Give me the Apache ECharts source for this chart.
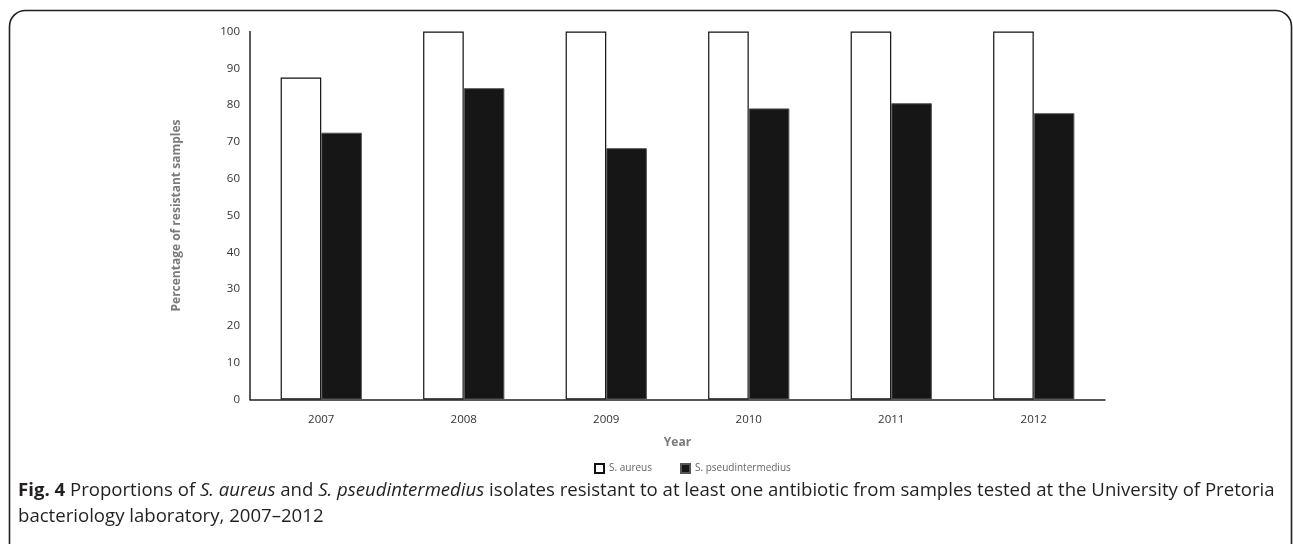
<!DOCTYPE html>
<html>
<head>
<meta charset="utf-8">
<script src="https://cdn.jsdelivr.net/npm/echarts@6/dist/echarts.min.js"></script>
<style>html,body{margin:0;padding:0;background:#fff;}#c{width:1293px;height:544px;}</style>
</head>
<body>
<div id="c"></div>
<script>
const years = ['2007','2008','2009','2010','2011','2012'];
const aureus = [87.5, 100, 100, 100, 100, 100];
const pseudintermedius = [72.5, 84.6, 68.3, 79.1, 80.5, 77.8];
const yTicks = {min: 0, max: 100, interval: 10};

const chart = echarts.init(document.getElementById('c'), null, {renderer: 'canvas'});
const font = '"Open Sans", sans-serif';
const capFont = '"Open Sans", sans-serif';
const capSize = 18.6;
chart.setOption({
  animation: false,
  backgroundColor: '#fff',
  grid: {left: 250, right: 188, top: 31.5, bottom: 144.5, containLabel: false},
  xAxis: {
    type: 'category', data: years,
    name: 'Year', nameLocation: 'middle', nameGap: 37,
    nameTextStyle: {color: '#7a7a7a', fontWeight: 'bold', fontSize: 12, fontFamily: font},
    axisLine: {lineStyle: {color: '#222', width: 1.5}},
    axisTick: {show: false},
    axisLabel: {color: '#333', fontSize: 11.5, fontFamily: font, margin: 14}
  },
  yAxis: {
    type: 'value', min: yTicks.min, max: yTicks.max, interval: yTicks.interval,
    name: 'Percentage of resistant samples', nameLocation: 'middle', nameGap: 67,
    nameTextStyle: {color: '#7a7a7a', fontWeight: 'bold', fontSize: 12, fontFamily: font},
    axisLine: {show: true, lineStyle: {color: '#222', width: 1.5}},
    axisTick: {show: false},
    splitLine: {show: false},
    axisLabel: {color: '#333', fontSize: 11.5, fontFamily: font, margin: 10}
  },
  legend: {
    left: 589, top: 458, itemWidth: 9, itemHeight: 9, itemGap: 28, icon: 'rect',
    textStyle: {color: '#666', fontSize: 10, fontFamily: font},
    data: ['S. aureus', 'S. pseudintermedius']
  },
  series: [
    {name: 'S. aureus', type: 'bar', data: aureus, barGap: '0%', barCategoryGap: '43%',
     itemStyle: {color: '#fff', borderColor: '#111', borderWidth: 1.2}},
    {name: 'S. pseudintermedius', type: 'bar', data: pseudintermedius, barGap: '0%', barCategoryGap: '43%',
     itemStyle: {color: '#161616', borderColor: '#555', borderWidth: 1}}
  ],
  graphic: [
    {type: 'rect', shape: {x: 9.5, y: 10.5, width: 1282, height: 620, r: 16},
     style: {fill: null, stroke: '#231f20', lineWidth: 1.6}, silent: true},
    {type: 'text', left: 18, top: 478,
     style: {
       text: '{b|Fig. 4} Proportions of {i|S. aureus} and {i|S. pseudintermedius} isolates resistant to at least one antibiotic from samples tested at the University of Pretoria\nbacteriology laboratory, 2007\u20132012',
       font: capSize + 'px ' + capFont,
       fill: '#231f20', lineHeight: 26,
       rich: {
         b: {fontWeight: 'bold', fontSize: capSize, fontFamily: capFont, fill: '#231f20'},
         i: {fontStyle: 'italic', fontSize: capSize, fontFamily: capFont, fill: '#231f20'}
       }
     }}
  ]
});
</script>
</body>
</html>
